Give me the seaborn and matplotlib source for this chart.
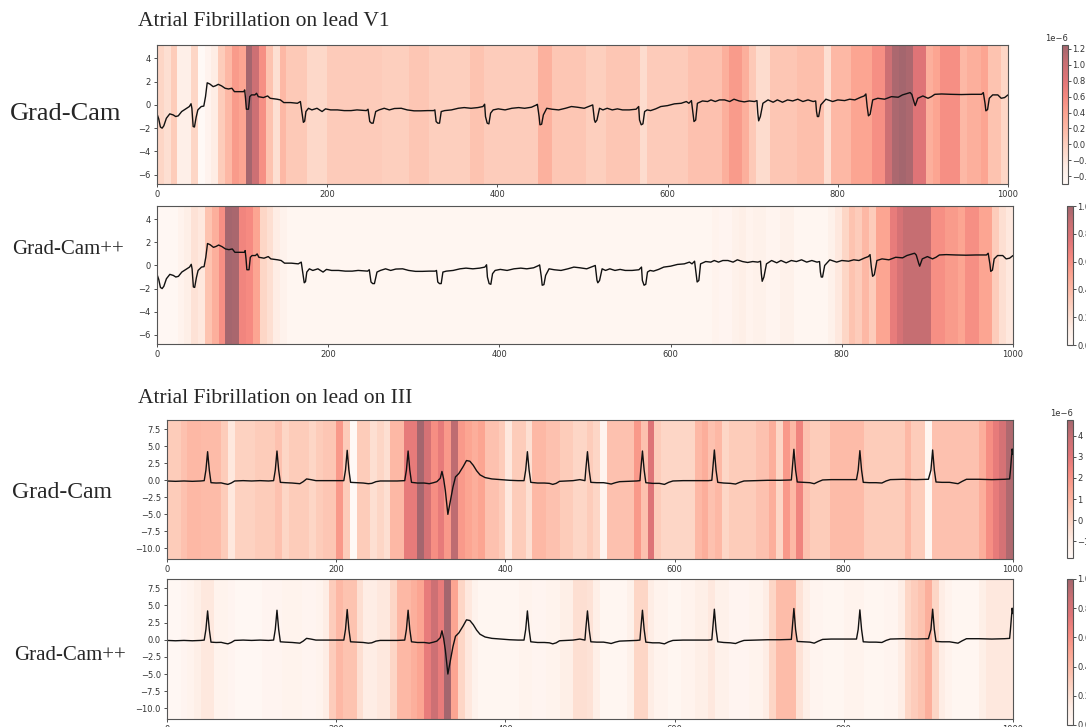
import numpy as np
import matplotlib
matplotlib.use("Agg")
import matplotlib.pyplot as plt
import seaborn as sns

sns.set_theme(style="ticks")
plt.rcParams["font.family"] = ["DejaVu Sans"]

# ECG lead V1 (sample index, mV)
v1_t = [0, 2, 4, 6, 8, 11, 15, 19, 22, 25, 29, 35, 38, 40, 41, 42.5, 44, 46, 48, 52, 55, 57, 59, 62, 66, 69, 72,
        76, 80, 84, 88, 91, 102, 103, 104, 105, 107.5, 109, 111, 115, 117, 119, 125, 130, 133, 141, 145, 149, 157,
        165, 168.5, 170.5, 172, 173.5, 175, 178, 182, 188, 194, 198, 204, 212, 220, 228, 235, 246, 248, 250, 252,
        254, 257, 261, 267, 273, 279, 287, 294, 302, 310, 318, 325, 326.5, 328, 330, 332, 334, 338, 346, 354, 361,
        369, 377, 383, 385, 386, 388, 390, 392, 395, 401, 409, 417, 425, 432, 440, 446, 447, 449, 450, 452, 454,
        458, 464, 472, 480, 487, 494, 502, 512, 514, 515, 517, 520, 524, 529, 535, 541, 547, 555, 563, 566, 567,
        569, 571, 573, 576, 580, 586, 592, 600, 608, 616, 622, 625, 628, 630, 631, 633, 635, 641, 647, 651, 656,
        661, 667, 673, 678, 684, 690, 696, 702, 705, 706, 707, 709, 712, 718, 724, 729, 735, 741, 747, 753, 759,
        765, 771, 774, 775, 776, 777.5, 780, 786, 794, 800, 808, 814, 820, 827, 831, 833, 834.5, 836, 838, 841,
        847, 855, 863, 871, 876, 882, 885, 887, 890, 891, 894, 900, 906, 910, 914, 922, 933, 945, 957, 969, 971,
        973, 974, 976, 978, 982, 988, 992, 996, 1000]
v1_y = [-0.77, -1.2, -1.9, -2.0, -1.8, -1.15, -0.77, -0.86, -1.0, -0.94, -0.57, -0.29, -0.14, 0.1, -0.3, -1.86,
        -1.9, -1.06, -0.43, -0.14, -0.1, 0.71, 1.9, 1.8, 1.57, 1.65, 1.77, 1.63, 1.43, 1.37, 1.43, 1.14, 1.14,
        1.29, 0.57, -0.37, -0.37, 0.71, 0.86, 0.86, 1.0, 0.71, 0.63, 0.77, 0.57, 0.49, 0.43, 0.2, 0.2, 0.14, 0.29,
        -0.71, -1.5, -1.4, -0.57, -0.29, -0.43, -0.29, -0.57, -0.34, -0.43, -0.43, -0.49, -0.49, -0.43, -0.49,
        -0.37, -1.43, -1.57, -1.57, -0.57, -0.43, -0.29, -0.43, -0.31, -0.29, -0.43, -0.51, -0.51, -0.49, -0.49,
        -0.43, -1.43, -1.57, -1.57, -0.57, -0.49, -0.43, -0.29, -0.23, -0.29, -0.23, -0.14, 0.06, -1.0, -1.57,
        -1.63, -0.71, -0.43, -0.34, -0.43, -0.29, -0.23, -0.29, -0.2, 0.0, 0.05, -1.0, -1.71, -1.66, -0.86, -0.29,
        -0.37, -0.43, -0.29, -0.14, -0.2, -0.29, 0.0, -1.29, -1.5, -1.3, -0.29, -0.43, -0.29, -0.43, -0.34, -0.43,
        -0.43, -0.37, -0.14, -1.29, -1.71, -1.63, -0.57, -0.43, -0.49, -0.34, -0.14, -0.06, 0.09, 0.14, 0.29, 0.14,
        0.37, -0.86, -1.43, -1.3, 0.14, 0.34, 0.29, 0.43, 0.29, 0.43, 0.43, 0.29, 0.49, 0.34, 0.26, 0.34, 0.29,
        0.37, -0.71, -1.37, -1.0, 0.14, 0.43, 0.23, 0.43, 0.23, 0.43, 0.34, 0.49, 0.29, 0.43, 0.29, 0.34, -0.57,
        -1.0, -1.0, 0.0, 0.49, 0.29, 0.43, 0.37, 0.49, 0.43, 0.66, 0.77, 0.94, -0.14, -0.94, -0.8, 0.43, 0.57,
        0.49, 0.71, 0.66, 0.86, 1.0, 1.06, 0.9, 0.14, -0.06, 0.57, 0.77, 0.57, 0.71, 0.91, 0.94, 0.91, 0.89, 0.91,
        0.91, 1.06, 0.14, -0.51, -0.4, 0.57, 0.86, 0.86, 0.57, 0.63, 0.86]

# ECG lead III
iii_t = [0, 10, 20, 30, 40, 44, 46, 48, 50, 52, 58, 64, 68, 72, 76, 80, 90, 100, 110, 120, 126, 128, 130, 132, 134,
         140, 148, 153, 157, 161, 165, 170, 176, 190, 200, 209, 211, 213, 215, 217, 225, 232, 238, 242, 247, 252,
         262, 272, 281, 283, 285, 287, 289, 296, 304, 310, 315, 319, 323, 325, 327, 329, 332, 335, 338, 341, 345,
         350, 354, 358, 362, 366, 370, 376, 384, 395, 405, 415, 422, 424, 426, 428, 430, 438, 446, 452, 456, 460,
         464, 472, 480, 488, 494, 495, 497, 499, 501, 508, 516, 521, 525, 530, 535, 545, 555, 559, 560, 562, 564,
         566, 574, 582, 588, 593, 598, 610, 625, 640, 644, 645, 647, 649, 651, 658, 666, 672, 677, 682, 695, 710,
         725, 738, 739, 741, 743, 745, 752, 760, 765, 770, 775, 785, 800, 815, 817, 819, 821, 823, 830, 838, 845,
         850, 855, 870, 885, 900, 903, 905, 907, 909, 916, 925, 935, 940, 945, 960, 975, 990, 996, 997, 999, 1000]
iii_y = [-0.1, -0.15, -0.1, -0.15, -0.1, -0.05, 1.5, 4.2, 1.5, -0.35, -0.4, -0.38, -0.5, -0.6, -0.4, -0.1, -0.05,
         -0.1, -0.05, -0.1, -0.05, 1.5, 4.3, 1.5, -0.3, -0.35, -0.4, -0.45, -0.5, -0.2, 0.2, 0.1, -0.05, -0.05,
         -0.05, -0.05, 1.5, 4.4, 1.5, -0.3, -0.35, -0.4, -0.5, -0.45, -0.2, -0.1, -0.1, -0.1, -0.05, 1.5, 4.3, 1.5,
         -0.3, -0.4, -0.4, -0.5, -0.35, -0.2, 0.3, 1.3, 0.2, -1.5, -5.0, -3.0, -1.0, 0.5, 1.0, 2.0, 2.9, 2.8, 2.2,
         1.4, 0.8, 0.4, 0.2, 0.1, 0.0, -0.05, -0.05, 1.5, 4.2, 1.5, -0.3, -0.4, -0.4, -0.45, -0.6, -0.45, -0.15,
         -0.1, -0.05, 0.1, -0.05, 1.5, 4.2, 1.5, -0.3, -0.35, -0.35, -0.45, -0.55, -0.35, -0.2, -0.15, -0.1, -0.05,
         1.5, 4.3, 1.5, -0.35, -0.45, -0.45, -0.6, -0.3, -0.1, -0.05, -0.05, -0.05, 0.0, 1.5, 4.45, 1.5, -0.3,
         -0.4, -0.45, -0.55, -0.3, -0.1, -0.05, 0.0, 0.0, 0.05, 1.5, 4.55, 1.5, -0.25, -0.3, -0.35, -0.5, -0.2,
         0.05, 0.1, 0.1, 0.1, 1.5, 4.35, 1.5, -0.3, -0.35, -0.35, -0.4, -0.1, 0.1, 0.15, 0.1, 0.15, 1.5, 4.45, 1.5,
         -0.25, -0.3, -0.3, -0.5, -0.15, 0.15, 0.15, 0.1, 0.15, 0.2, 1.5, 4.6, 3.8]

# saliency per 8-sample window, as run lengths (value, number of windows)
gc_v1_vals = [-0.06, -0.15, 0.03, -0.33, -0.06, -0.5, -0.41, -0.29, 0.03, 0.2, 0.46, 0.38, 1.25, 0.99, 0.55,
              0.11, -0.15, 0.2, 0.06, -0.08, 0.04, 0.0, 0.08, 0.0, 0.11, 0.02, 0.27, 0.08, 0.0, 0.08,
              -0.12, 0.04, 0.12, 0.29, 0.46, 0.29, 0.06, -0.12, 0.08, 0.14, -0.15, 0.2, 0.38, 0.55, 0.99, 1.2,
              1.25, 1.2, 0.81, 0.29, 0.38, 0.55, 0.2, 0.29, 0.38, 0.11, -0.06]
gc_v1_runs = [1, 1, 1, 2, 1, 1, 1, 1, 1, 1, 1, 1, 1, 1, 1, 1, 1, 1, 3, 3, 8, 4, 3, 6, 2, 8, 2, 5, 3, 5, 1, 6, 5,
              1, 2, 1, 1, 2, 4, 4, 1, 3, 3, 2, 1, 1, 1, 1, 2, 1, 1, 3, 1, 2, 1, 2, 1]

gcpp_v1_vals = [0.02, 0.06, 0.1, 0.18, 0.15, 0.35, 0.45, 0.6, 1.0, 0.98, 0.65, 0.62, 0.5, 0.25, 0.2, 0.12, 0.07,
                0.03, 0.06, 0.04, 0.08, 0.1, 0.06, 0.08, 0.05, 0.08, 0.03, 0.08, 0.15, 0.25, 0.35, 0.3, 0.4, 0.3,
                0.5, 0.7, 0.8, 0.88, 0.6, 0.55, 0.5, 0.6, 0.5, 0.3, 0.2, 0.15]
gcpp_v1_runs = [3, 1, 1, 1, 1, 1, 1, 1, 1, 1, 1, 1, 1, 1, 1, 1, 1, 62, 1, 2, 1, 1, 1, 2, 2, 2, 5, 1, 1, 1, 1, 1,
                1, 1, 2, 1, 1, 4, 2, 2, 1, 2, 2, 1, 1, 1]

gc_iii_vals = [0.18, 0.51, 0.84, 0.71, 0.18, -0.81, -0.02, 0.18, 0.51, -0.15, 0.18, -0.15, 0.18, 0.38, 1.83, 0.18,
               -1.8, 0.18, -0.48, -0.15, -0.48, 0.84, 2.82, 4.75, 3.48, 2.16, 2.82, 1.83, 4.14, 1.83, 1.5, 1.17,
               1.5, 0.51, 0.18, -0.81, 0.18, -0.48, 0.84, 0.51, 0.18, -0.15, 0.18, -0.15, -1.47, 0.51, 1.83, 0.51,
               3.15, 0.18, -0.15, 0.84, 1.17, 0.51, 0.84, -0.15, 0.18, 0.51, 1.17, -0.15, 1.83, 0.84, 2.49, 0.51,
               0.18, 0.71, 0.18, 0.84, 0.18, -1.6, 0.51, 1.17, 2.16, 2.82, 3.48, 4.47]
gc_iii_runs = [2, 1, 2, 3, 1, 1, 3, 3, 1, 1, 3, 1, 1, 2, 1, 1, 1, 2, 1, 1, 1, 2, 2, 1, 1, 1, 1, 1, 1, 1, 1, 1, 1,
               2, 1, 1, 2, 1, 2, 2, 2, 2, 1, 1, 1, 4, 1, 1, 1, 1, 5, 1, 1, 1, 1, 1, 4, 2, 1, 1, 1, 1, 1, 1, 3, 5,
               6, 1, 2, 1, 7, 1, 1, 1, 1, 1]

gcpp_iii_vals = [0.02, 0.04, 0.06, 0.1, 0.15, 0.06, 0.04, 0.02, 0.04, 0.06, 0.04, 0.06, 0.12, 0.3, 0.4, 0.35, 0.2,
                 0.12, 0.15, 0.25, 0.4, 0.45, 0.5, 0.7, 0.85, 0.7, 1.0, 0.5, 0.25, 0.15, 0.07, 0.03, 0.06, 0.04,
                 0.06, 0.1, 0.2, 0.18, 0.1, 0.03, 0.08, 0.25, 0.12, 0.06, 0.03, 0.06, 0.1, 0.15, 0.08, 0.04, 0.06,
                 0.12, 0.25, 0.38, 0.18, 0.1, 0.05, 0.03, 0.06, 0.03, 0.05, 0.12, 0.25, 0.3, 0.35, 0.45, 0.25, 0.12,
                 0.06, 0.03, 0.1, 0.15]
gcpp_iii_runs = [2, 1, 1, 1, 2, 2, 1, 4, 3, 3, 2, 1, 1, 1, 1, 2, 1, 2, 2, 1, 2, 1, 1, 1, 1, 1, 1, 1, 1, 1, 1, 6,
                 2, 2, 2, 2, 2, 1, 1, 4, 1, 2, 1, 2, 2, 2, 2, 1, 2, 3, 2, 1, 1, 3, 1, 1, 2, 3, 3, 3, 2, 1, 1, 1, 1,
                 1, 1, 1, 1, 4, 1, 4]

WIN = 8

fig = plt.figure(figsize=(10.86, 7.27), dpi=100)

serif = ["Liberation Serif", "DejaVu Serif"]


def panel(ax_rect, cb_rect, t, sig, vals, runs, ylim, yticks, scale=1.0, vlim=(None, None), cticks=None):
    ax = fig.add_axes(ax_rect)
    cax = fig.add_axes(cb_rect)
    cam = np.repeat(np.array(vals) * scale, runs)
    edges = np.arange(0, len(cam) * WIN + 1, WIN)
    mesh = ax.pcolormesh(edges, list(ylim), cam[np.newaxis, :], cmap="Reds", alpha=0.6,
                         vmin=vlim[0], vmax=vlim[1], edgecolors="none", antialiased=False)
    sns.lineplot(x=t, y=sig, ax=ax, color="#111111", linewidth=1.0, sort=False)
    ax.set_xlim(0, 1000)
    ax.set_ylim(*ylim)
    ax.set_xticks(range(0, 1001, 200))
    ax.set_yticks(yticks)
    ax.tick_params(labelsize=6, length=2.5, width=0.6, colors="#333333", pad=2)
    for s in ax.spines.values():
        s.set_color("#555555")
        s.set_linewidth(0.8)
    cb = fig.colorbar(mesh, cax=cax)
    if cticks is not None:
        cb.set_ticks(cticks)
    cb.ax.tick_params(labelsize=6, length=2, width=0.6, colors="#333333", pad=1)
    cb.ax.yaxis.get_offset_text().set_fontsize(6)
    cb.outline.set_edgecolor("#555555")
    cb.outline.set_linewidth(0.8)
    return ax


W, H = 1086, 727


def rect(x0, y0, x1, y1):
    return [x0 / W, 1 - y1 / H, (x1 - x0) / W, (y1 - y0) / H]


panel(rect(157, 45, 1008, 184), rect(1062, 45, 1068, 184), v1_t, v1_y, gc_v1_vals, gc_v1_runs,
      (-6.8, 5.15), [-6, -4, -2, 0, 2, 4], scale=1e-6,
      cticks=np.arange(-0.4, 1.21, 0.2) * 1e-6)
panel(rect(157, 206, 1013, 344), rect(1067, 206, 1073, 345), v1_t, v1_y, gcpp_v1_vals, gcpp_v1_runs,
      (-6.8, 5.15), [-6, -4, -2, 0, 2, 4], vlim=(0, 1), cticks=np.arange(0, 1.01, 0.2))
panel(rect(167, 420, 1013, 559), rect(1067, 420, 1073, 558), iii_t, iii_y, gc_iii_vals, gc_iii_runs,
      (-11.55, 8.85), np.arange(-10, 8, 2.5), scale=1e-6, cticks=np.arange(-1, 4.1, 1) * 1e-6)
panel(rect(167, 579, 1013, 719), rect(1067, 579, 1073, 725), iii_t, iii_y, gcpp_iii_vals, gcpp_iii_runs,
      (-11.55, 8.85), np.arange(-10, 8, 2.5), vlim=(0, 1), cticks=np.arange(0, 1.01, 0.2))

fig.text(138 / W, 1 - 22 / H, "Atrial Fibrillation on lead V1", family=serif, fontsize=15.5, va="center")
fig.text(138 / W, 1 - 398 / H, "Atrial Fibrillation on lead on III", family=serif, fontsize=15.5, va="center")
fig.text(10 / W, 1 - 114 / H, "Grad-Cam", family=serif, fontsize=19, va="center")
fig.text(12 / W, 1 - 250 / H, "Grad-Cam++", family=serif, fontsize=15, va="center")
fig.text(12 / W, 1 - 493 / H, "Grad-Cam", family=serif, fontsize=17, va="center")
fig.text(14 / W, 1 - 656 / H, "Grad-Cam++", family=serif, fontsize=15, va="center")

fig.savefig("out.png", dpi=100)
